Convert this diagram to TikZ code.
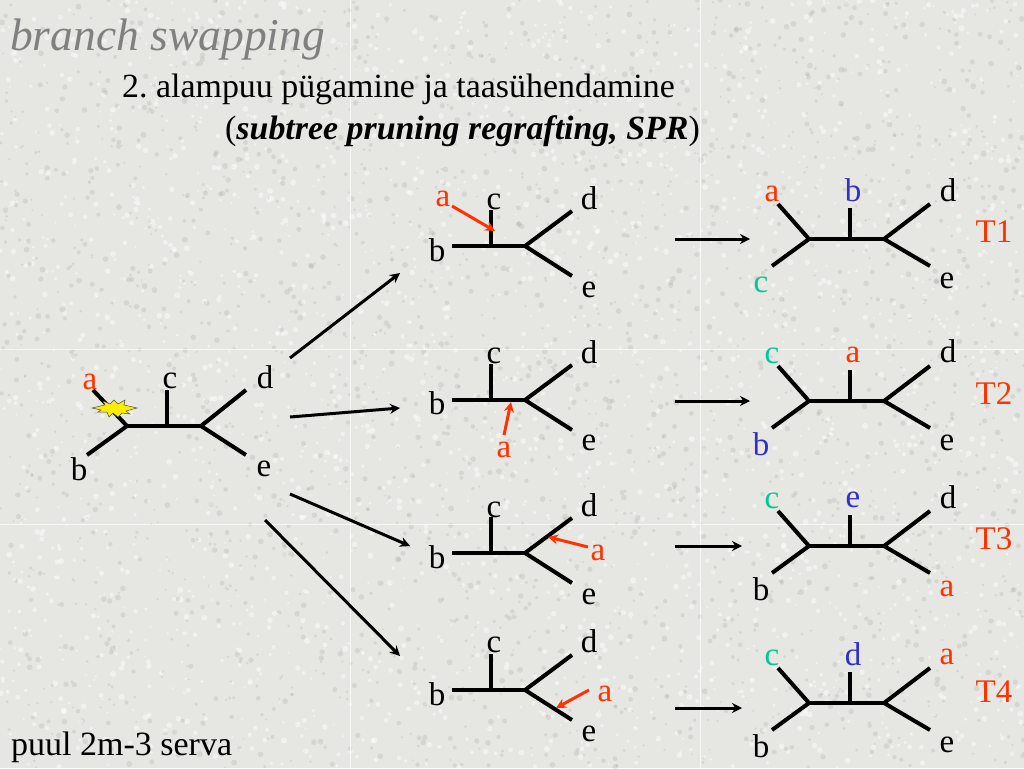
\documentclass[tikz,border=0pt]{standalone}
\usepackage{fontspec}
\setmainfont{Liberation Serif}
\frenchspacing
\usetikzlibrary{arrows.meta}
\definecolor{bgc}{HTML}{E6E6E2}
\definecolor{redl}{HTML}{FF3300}
\definecolor{teall}{HTML}{00C896}
\definecolor{bluel}{HTML}{3030C8}
\definecolor{titlec}{HTML}{808080}
\pgfmathsetseed{4217}
\tikzset{
  edge/.style={line width=4pt,black},
  flow/.style={line width=3pt,black,-{Stealth[length=10pt,width=10pt]}},
  redarrow/.style={line width=3pt,redl,-{Stealth[length=10pt,width=10pt]}},
  lab/.style={inner sep=0pt,font=\fontsize{33}{33}\selectfont,black},
  tlab/.style={inner sep=0pt,text=redl,font=\fontsize{33}{33}\selectfont},
  low/.style={yshift=-2.5pt},
  red/.style={text=redl},
  teal/.style={text=teall},
  blue/.style={text=bluel}
}
\newcommand{\righttree}[7]{%
  \coordinate (#1j) at (809,#2);
  \coordinate (#1m) at (850,#2);
  \coordinate (#1k) at (884,#2);
  \coordinate (#1tl) at (778,#2-35);
  \coordinate (#1bl) at (772,#2+27);
  \coordinate (#1tm) at (850,#2-31);
  \coordinate (#1tr) at (930,#2-35);
  \coordinate (#1br) at (930,#2+27);
  \draw[edge] (#1j) -- (#1k);
  \draw[edge] (#1tl) -- (#1j) -- (#1bl);
  \draw[edge] (#1m) -- (#1tm);
  \draw[edge] (#1tr) -- (#1k) -- (#1br);
  \node[lab,#3] (#1a) at (772,#2-48) {#4};
  \node[lab,#5] (#1b) at (853,#2-49) {#6};
  \node[lab,#7] (#1c) at (#2*0+761,#2+43) {\rightlabel};
}
\newcommand{\midtree}[2]{%
  \coordinate (#1b) at (452,#2);
  \coordinate (#1m) at (491,#2);
  \coordinate (#1j) at (525,#2);
  \coordinate (#1c) at (491,#2-36);
  \coordinate (#1d) at (572,#2-35);
  \coordinate (#1e) at (572,#2+30);
  \draw[edge] (#1b) -- (#1j);
  \draw[edge] (#1m) -- (#1c);
  \draw[edge] (#1d) -- (#1j) -- (#1e);
}
\begin{document}
\begin{tikzpicture}[x=1pt,y=-1pt]
\useasboundingbox (0,0) rectangle (1024,768);
\fill[bgc] (0,0) rectangle (1024,768);
% paper texture
\foreach \i in {1,...,2400}{
  \pgfmathsetmacro{\px}{rnd*1024}
  \pgfmathsetmacro{\py}{rnd*768}
  \pgfmathsetmacro{\pr}{1+rnd*2}
  \fill[white,opacity=.45] (\px,\py) circle[radius=\pr];
  \pgfmathsetmacro{\qx}{rnd*1024}
  \pgfmathsetmacro{\qy}{rnd*768}
  \fill[gray,opacity=.16] (\qx,\qy) circle[radius=\pr];
}
% tile seams
\foreach \sx in {350,700}{\draw[white,line width=1pt,opacity=.7] (\sx,0) -- (\sx,768);}
\foreach \sy in {349,524}{\draw[white,line width=1pt,opacity=.7] (0,\sy) -- (1024,\sy);}

% headings
\node[inner sep=0pt,anchor=base west,text=titlec,font=\fontsize{45.5}{46}\selectfont\itshape] (title) at (10,50) {branch swapping};
\node[inner sep=0pt,anchor=base west,font=\fontsize{33.9}{34}\selectfont] (sub1) at (122,97) {2. alampuu pügamine ja taasühendamine};
\node[inner sep=0pt,anchor=base west,font=\fontsize{33.9}{34}\selectfont] (sub2) at (225,139) {(\textbf{\textit{subtree pruning regrafting, SPR}})};
\node[inner sep=0pt,anchor=base west,font=\fontsize{34}{34}\selectfont] (pool) at (11,755) {puul 2m-3 serva};

% left tree
\coordinate (Lj) at (127,426);
\coordinate (Lm) at (167,426);
\coordinate (Lk) at (201,426);
\coordinate (La) at (93,390);
\coordinate (Lb) at (87,455);
\coordinate (Lc) at (167,390);
\coordinate (Ld) at (246,390);
\coordinate (Le) at (246,455);
\draw[edge] (Lj) -- (Lk);
\draw[edge] (La) -- (Lj) -- (Lb);
\draw[edge] (Lm) -- (Lc);
\draw[edge] (Ld) -- (Lk) -- (Le);
\fill[yellow!95!orange,draw=black!70,line width=.5pt]
 (92,408) -- (105,405) -- (103,401) -- (110,404) -- (114,400) -- (118,404) -- (125,400) -- (124,405)
 -- (137,408) -- (126,411) -- (130,414) -- (122,413) -- (118,417) -- (113,413) -- (109,417) -- (107,412) -- (98,412) -- (101,410) -- cycle;
\node[lab,red,low] (La1) at (90,379) {a};
\node[lab,low] (Lc1) at (170,378) {c};
\node[lab] (Ld1) at (265,377) {d};
\node[lab,low] (Le1) at (264,466) {e};
\node[lab] (Lb1) at (79,469) {b};

% middle trees
\midtree{A}{246}
\node[lab] at (437,250) (Ab1) {b};
\node[lab,low] at (494,199) (Ac1) {c};
\node[lab] at (589,198) (Ad1) {d};
\node[lab,low] at (589,287) (Ae1) {e};
\node[lab,red,low] at (443,196) (Aa1) {a};
\coordinate (Aas) at (452,206);
\coordinate (Aat) at (495,231);
\draw[redarrow] (Aas) -- (Aat);

\midtree{B}{400}
\node[lab] at (437,403) (Bb1) {b};
\node[lab,low] at (494,353) (Bc1) {c};
\node[lab] at (589,352) (Bd1) {d};
\node[lab,low] at (589,440) (Be1) {e};
\node[lab,red,low] at (504,447) (Ba1) {a};
\coordinate (Bas) at (504,435);
\coordinate (Bat) at (511,402);
\draw[redarrow] (Bas) -- (Bat);

\midtree{C}{553}
\node[lab] at (437,557) (Cb1) {b};
\node[lab,low] at (494,507) (Cc1) {c};
\node[lab] at (589,505) (Cd1) {d};
\node[lab,low] at (589,594) (Ce1) {e};
\node[lab,red,low] at (598,550) (Ca1) {a};
\coordinate (Cas) at (588,547);
\coordinate (Cat) at (548,537);
\draw[redarrow] (Cas) -- (Cat);

\midtree{D}{690}
\node[lab] at (437,694) (Db1) {b};
\node[lab,low] at (494,642) (Dc1) {c};
\node[lab] at (589,641) (Dd1) {d};
\node[lab,low] at (589,731) (De1) {e};
\node[lab,red,low] at (605,691) (Da1) {a};
\coordinate (Das) at (589,690);
\coordinate (Dat) at (556,708);
\draw[redarrow] (Das) -- (Dat);

% left-to-middle arrows
\coordinate (f1s) at (290,358); \coordinate (f1t) at (400,273);
\coordinate (f2s) at (290,417); \coordinate (f2t) at (400,408);
\coordinate (f3s) at (290,494); \coordinate (f3t) at (410,546);
\coordinate (f4s) at (265,520); \coordinate (f4t) at (400,656);
\draw[flow] (f1s) -- (f1t);
\draw[flow] (f2s) -- (f2t);
\draw[flow] (f3s) -- (f3t);
\draw[flow] (f4s) -- (f4t);

% middle-to-right arrows
\coordinate (g1s) at (675,239); \coordinate (g1t) at (750,239);
\coordinate (g2s) at (675,401); \coordinate (g2t) at (750,401);
\coordinate (g3s) at (675,546); \coordinate (g3t) at (742,546);
\coordinate (g4s) at (675,708); \coordinate (g4t) at (742,708);
\draw[flow] (g1s) -- (g1t);
\draw[flow] (g2s) -- (g2t);
\draw[flow] (g3s) -- (g3t);
\draw[flow] (g4s) -- (g4t);

% right trees
\def\rightlabel{c}
\righttree{P}{239}{red,low}{a}{blue}{b}{teal,low}
\node[lab] (Pd) at (948,190) {d};
\node[lab,low] (Pe) at (947,278) {e};
\node[tlab] (T1) at (994,232) {T1};

\def\rightlabel{b}
\righttree{Q}{401}{teal,low}{c}{red,low}{a}{blue}
\node[lab] (Qd) at (948,351) {d};
\node[lab,low] (Qe) at (947,440) {e};
\node[tlab] (T2) at (994,394) {T2};

\def\rightlabel{b}
\righttree{R}{546}{teal,low}{c}{blue,low}{e}{}
\node[lab] (Rd) at (948,497) {d};
\node[lab,red,low] (Re) at (947,586) {a};
\node[tlab] (T3) at (994,539) {T3};

\def\rightlabel{b}
\righttree{S}{703}{teal,low}{c}{blue}{d}{}
\node[lab,red,low] (Sd) at (947,654) {a};
\node[lab,low] (Se) at (947,742) {e};
\node[tlab] (T4) at (994,692) {T4};
\end{tikzpicture}
\end{document}
